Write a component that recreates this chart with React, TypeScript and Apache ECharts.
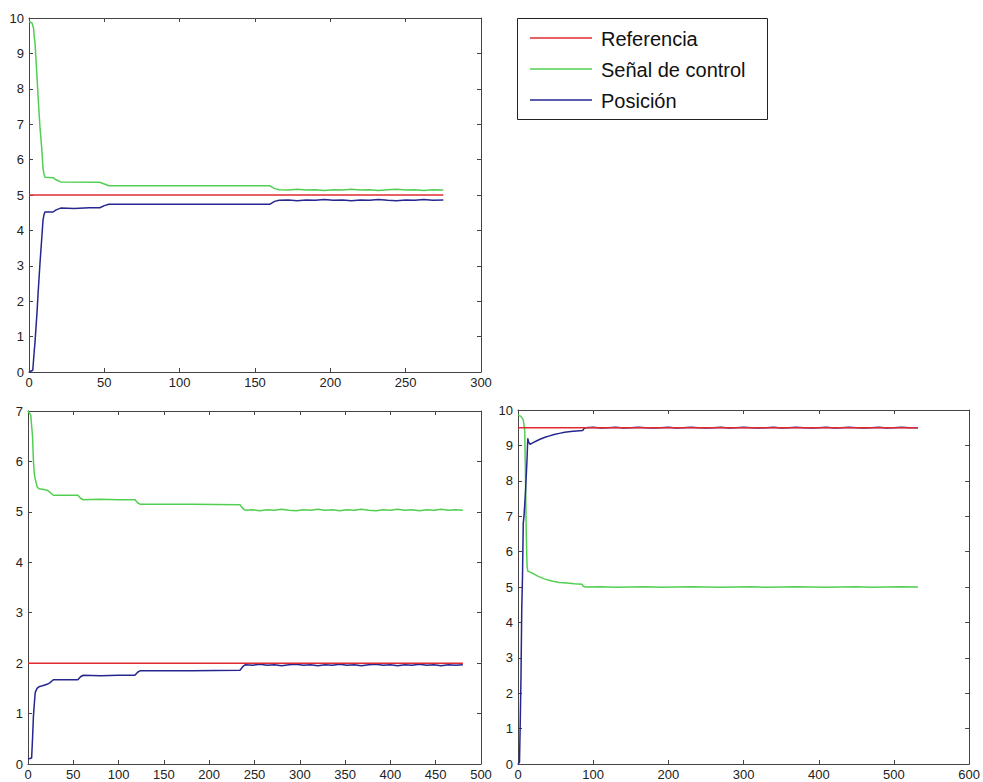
import React, { useEffect, useRef } from "react";
import * as echarts from "echarts";

// ---------- data ----------
const seriesNames = ["Referencia", "Señal de control", "Posición"];

// Top-left plot (x 0..300, y 0..10)
const topRef: number[][] = [[0, 5], [275, 5]];
const topCtrl: number[][] = [
  [0, 9.9], [2, 9.86], [3, 9.72], [3.5, 9.45], [4, 9.3], [5.3, 8.35], [6, 7.8], [7.3, 6.9], [8.5, 6.3],
  [9.3, 5.75], [10, 5.58], [10.6, 5.5], [16, 5.49], [18, 5.43], [21, 5.37], [47, 5.36], [50, 5.31],
  [53, 5.26], [100, 5.26], [160, 5.26], [163, 5.18], [166, 5.15], [172, 5.14], [178, 5.16], [184, 5.14],
  [190, 5.15], [196, 5.13], [202, 5.15], [208, 5.14], [214, 5.16], [220, 5.14], [226, 5.15], [232, 5.13],
  [238, 5.15], [244, 5.16], [250, 5.14], [256, 5.15], [262, 5.13], [268, 5.15], [275, 5.14],
];
const topPos: number[][] = [
  [0, 0], [2.5, 0.05], [3.5, 0.6], [4, 0.85], [5.3, 1.67], [6, 2.2], [7.3, 3.08], [8.5, 3.8],
  [9.3, 4.29], [10, 4.45], [10.6, 4.52], [16, 4.52], [18, 4.58], [21, 4.63], [30, 4.62], [40, 4.64],
  [47, 4.64], [50, 4.7], [53, 4.74], [100, 4.74], [160, 4.74], [163, 4.82], [166, 4.85], [172, 4.86],
  [178, 4.84], [184, 4.86], [190, 4.85], [196, 4.87], [202, 4.85], [208, 4.86], [214, 4.84], [220, 4.86],
  [226, 4.85], [232, 4.87], [238, 4.85], [244, 4.84], [250, 4.86], [256, 4.85], [262, 4.87], [268, 4.85],
  [275, 4.86],
];

// Bottom-left plot (x 0..500, y 0..7)
const blRef: number[][] = [[0, 2], [480, 2]];
const blCtrl: number[][] = [
  [0, 7], [3, 6.92], [5, 6.5], [6, 6.0], [7, 5.75], [8, 5.65], [10, 5.5], [12, 5.46], [16, 5.45],
  [21, 5.43], [24, 5.39], [28, 5.33], [40, 5.33], [55, 5.33], [58, 5.27], [61, 5.24], [80, 5.25],
  [100, 5.24], [118, 5.24], [121, 5.18], [124, 5.15], [180, 5.15], [234, 5.14], [237, 5.07], [240, 5.03],
  [248, 5.04], [256, 5.02], [264, 5.04], [272, 5.03], [280, 5.05], [288, 5.03], [296, 5.02], [304, 5.04],
  [312, 5.03], [320, 5.05], [328, 5.03], [336, 5.04], [344, 5.02], [352, 5.04], [360, 5.03], [368, 5.05],
  [376, 5.03], [384, 5.02], [392, 5.04], [400, 5.03], [408, 5.05], [416, 5.03], [424, 5.04], [432, 5.02],
  [440, 5.04], [448, 5.03], [456, 5.05], [464, 5.03], [472, 5.04], [480, 5.03],
];
const blPos: number[][] = [
  [0, 0.1], [4, 0.12], [5, 0.5], [6, 0.95], [7, 1.2], [8, 1.42], [10, 1.5], [12, 1.53], [16, 1.55],
  [21, 1.58], [24, 1.61], [28, 1.67], [40, 1.67], [55, 1.67], [58, 1.73], [61, 1.76], [80, 1.75],
  [100, 1.76], [118, 1.76], [121, 1.82], [124, 1.85], [180, 1.85], [234, 1.86], [237, 1.93], [240, 1.97],
  [248, 1.96], [256, 1.98], [264, 1.96], [272, 1.97], [280, 1.95], [288, 1.97], [296, 1.98], [304, 1.96],
  [312, 1.97], [320, 1.95], [328, 1.97], [336, 1.96], [344, 1.98], [352, 1.96], [360, 1.97], [368, 1.95],
  [376, 1.97], [384, 1.98], [392, 1.96], [400, 1.97], [408, 1.95], [416, 1.97], [424, 1.96], [432, 1.98],
  [440, 1.96], [448, 1.97], [456, 1.95], [464, 1.97], [472, 1.96], [480, 1.97],
];

// Bottom-right plot (x 0..600, y 0..10)
const brRef: number[][] = [[0, 9.5], [532, 9.5]];
const brCtrl: number[][] = [
  [0, 9.85], [4, 9.82], [7, 9.72], [9, 9.4], [10, 8.0], [11, 6.5], [12, 5.6], [13, 5.45], [16, 5.42],
  [20, 5.38], [27, 5.3], [35, 5.23], [45, 5.17], [55, 5.13], [65, 5.11], [75, 5.09], [85, 5.08],
  [87, 5.02], [90, 5.0], [110, 5.01], [130, 4.99], [150, 5.0], [170, 5.01], [190, 4.99], [210, 5.0],
  [230, 5.01], [250, 5.0], [270, 4.99], [290, 5.0], [310, 5.01], [330, 4.99], [350, 5.0], [370, 5.01],
  [390, 5.0], [410, 4.99], [430, 5.0], [450, 5.01], [470, 4.99], [490, 5.0], [510, 5.01], [532, 5.0],
];
const brPos: number[][] = [
  [0, 0], [2, 0.05], [3, 1.2], [4, 2.5], [5, 4.4], [6, 5.3], [7, 6.8], [8, 7.0], [10, 7.7], [12, 8.6],
  [13, 9.2], [14, 9.1], [16, 9.03], [20, 9.08], [25, 9.13], [30, 9.18], [36, 9.23], [42, 9.27],
  [48, 9.31], [55, 9.34], [62, 9.37], [70, 9.39], [78, 9.41], [86, 9.42], [88, 9.48], [90, 9.5],
  [100, 9.51], [110, 9.49], [120, 9.5], [130, 9.51], [140, 9.49], [150, 9.5], [160, 9.51], [170, 9.5],
  [180, 9.49], [190, 9.5], [200, 9.51], [210, 9.49], [220, 9.5], [230, 9.51], [240, 9.5], [250, 9.49],
  [260, 9.5], [270, 9.51], [280, 9.49], [290, 9.5], [300, 9.51], [310, 9.5], [320, 9.49], [330, 9.5],
  [340, 9.51], [350, 9.49], [360, 9.5], [370, 9.51], [380, 9.5], [390, 9.49], [400, 9.5], [410, 9.51],
  [420, 9.49], [430, 9.5], [440, 9.51], [450, 9.5], [460, 9.49], [470, 9.5], [480, 9.51], [490, 9.49],
  [500, 9.5], [510, 9.51], [520, 9.5], [532, 9.5],
];

// axes ranges
const xMaxes = [300, 500, 600];
const xIntervals = [50, 50, 100];
const yMaxes = [10, 7, 10];

// ---------- styles ----------
const RED = "#e02a30";
const GREEN = "#52cf52";
const BLUE = "#262690";
const AXIS = "#444444";
const FONT = "Liberation Sans, Arial, sans-serif";

export default function App() {
  const ref = useRef<HTMLDivElement>(null);

  useEffect(() => {
    document.body.style.margin = "0";
    if (!ref.current) return;
    const chart = echarts.init(ref.current, null, { renderer: "svg" });

    const grids = [
      { left: 29, top: 18, width: 452, height: 354 },
      { left: 28, top: 411, width: 453, height: 353 },
      { left: 518, top: 410, width: 453, height: 354 },
    ];

    const xAxes: any[] = [];
    const yAxes: any[] = [];
    grids.forEach((_, i) => {
      const base = {
        type: "value",
        gridIndex: i,
        min: 0,
        axisLine: { show: true, onZero: false, lineStyle: { color: AXIS, width: 1 } },
        axisTick: { show: true, inside: true, length: 4, lineStyle: { color: AXIS } },
        splitLine: { show: false },
      };
      xAxes.push({
        ...base,
        position: "bottom",
        max: xMaxes[i],
        interval: xIntervals[i],
        axisLabel: { color: "#222", fontSize: 13, margin: 4, fontFamily: FONT },
      });
      xAxes.push({
        ...base,
        position: "top",
        max: xMaxes[i],
        interval: xIntervals[i],
        axisLabel: { show: false },
      });
      yAxes.push({
        ...base,
        position: "left",
        max: yMaxes[i],
        interval: 1,
        axisLabel: { color: "#222", fontSize: 13, margin: 5, fontFamily: FONT },
      });
      yAxes.push({
        ...base,
        position: "right",
        max: yMaxes[i],
        interval: 1,
        axisLabel: { show: false },
      });
    });

    const datasets = [
      [topRef, topCtrl, topPos],
      [blRef, blCtrl, blPos],
      [brRef, brCtrl, brPos],
    ];
    const colors = [RED, GREEN, BLUE];
    const series: any[] = [];
    datasets.forEach((group, gi) => {
      group.forEach((data, si) => {
        series.push({
          type: "line",
          name: seriesNames[si],
          xAxisIndex: gi * 2,
          yAxisIndex: gi * 2,
          data,
          symbol: "none",
          lineStyle: { color: colors[si], width: 1.5 },
          itemStyle: { color: colors[si] },
          z: si === 0 ? 3 : 2,
        });
      });
    });

    const legendRows = [38, 69, 100];
    const graphic: any[] = [
      {
        type: "rect",
        shape: { x: 517.5, y: 18.5, width: 250, height: 101 },
        style: { fill: "#fff", stroke: "#222", lineWidth: 1 },
        z: 10,
      },
    ];
    legendRows.forEach((y, i) => {
      graphic.push({
        type: "line",
        shape: { x1: 530, y1: y, x2: 592, y2: y },
        style: { stroke: colors[i], lineWidth: 1.5 },
        z: 11,
      });
      graphic.push({
        type: "text",
        x: 601,
        y: y + 1,
        style: {
          text: seriesNames[i],
          fill: "#111",
          fontSize: 20,
          fontFamily: FONT,
          verticalAlign: "middle",
          align: "left",
        },
        z: 11,
      });
    });

    chart.setOption({
      animation: false,
      backgroundColor: "#fff",
      grid: grids,
      xAxis: xAxes,
      yAxis: yAxes,
      series,
      graphic,
    });

    return () => chart.dispose();
  }, []);

  return <div ref={ref} style={{ width: 983, height: 782 }} />;
}
